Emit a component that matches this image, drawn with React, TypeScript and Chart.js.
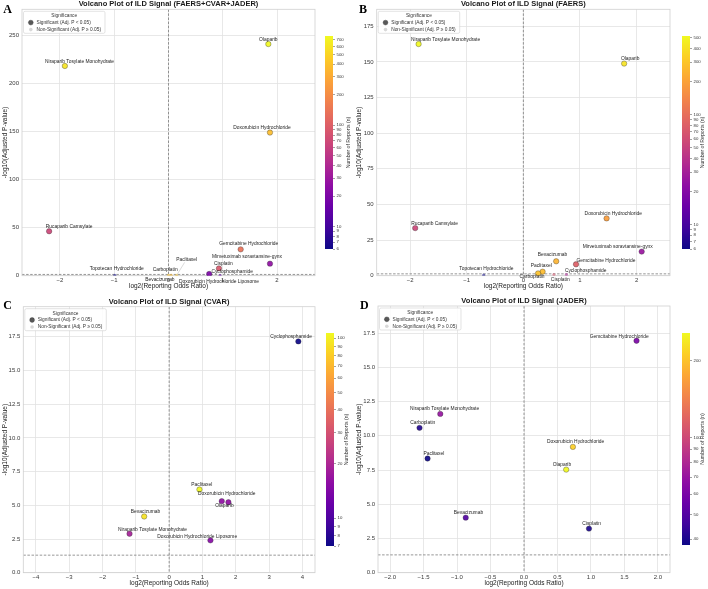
import React, { useEffect, useRef } from "react";
import { Chart, registerables } from "chart.js";
Chart.register(...registerables);

const FONT = "'Liberation Sans', Arial, Helvetica, sans-serif";
Chart.defaults.font.family = FONT;

// ---------------- DATA ----------------
// Panel A: FAERS+CVAR+JADER
const drugsA = ["Olaparib", "Niraparib Tosylate Monohydrate", "Doxorubicin Hydrochloride", "Rucaparib Camsylate", "Gemcitabine Hydrochloride", "Mirvetuximab soravtansine-gynx", "Cisplatin", "Cyclophosphamide", "Topotecan Hydrochloride", "Carboplatin", "Bevacizumab", "Paclitaxel", "Doxorubicin Hydrochloride Liposome"];
const log2RorA = [1.84, -1.91, 1.87, -2.2, 1.33, 1.87, 0.93, 0.75, -0.99, 0.05, 0.0, 0.15, 0.95];
const negLogPA = [240.8, 218.0, 148.8, 46.2, 27.4, 12.5, 7.6, 1.8, 0.3, 0.4, 0.3, 0.4, 0.2];
const reportsA = [760, 600, 380, 67, 134, 26, 90, 20, 6, 370, 400, 420, 15];

// Panel B: FAERS
const drugsB = ["Niraparib Tosylate Monohydrate", "Olaparib", "Doxorubicin Hydrochloride", "Rucaparib Camsylate", "Mirvetuximab soravtansine-gynx", "Bevacizumab", "Gemcitabine Hydrochloride", "Paclitaxel", "Carboplatin", "Cisplatin", "Cyclophosphamide", "Topotecan Hydrochloride"];
const log2RorB = [-1.85, 1.78, 1.47, -1.91, 2.09, 0.58, 0.93, 0.34, 0.26, 0.54, 0.76, -0.7];
const negLogPB = [162.5, 148.8, 40.2, 33.4, 16.9, 10.1, 8.0, 2.8, 1.6, 0.8, 0.8, 0.4];
const reportsB = [520, 415, 186, 56, 26, 245, 80, 270, 290, 69, 33, 6];

// Panel C: CVAR
const drugsC = ["Cyclophosphamide", "Paclitaxel", "Doxorubicin Hydrochloride", "Olaparib", "Bevacizumab", "Niraparib Tosylate Monohydrate", "Doxorubicin Hydrochloride Liposome"];
const log2RorC = [3.88, 0.91, 1.58, 1.78, -0.75, -1.19, 1.24];
const negLogPC = [17.16, 6.17, 5.31, 5.23, 4.17, 2.89, 2.4];
const reportsC = [7, 107, 16, 16, 93, 19, 15];

// Panel D: JADER
const drugsD = ["Gemcitabine Hydrochloride", "Niraparib Tosylate Monohydrate", "Carboplatin", "Doxorubicin Hydrochloride", "Paclitaxel", "Olaparib", "Bevacizumab", "Cisplatin"];
const log2RorD = [1.68, -1.25, -1.56, 0.73, -1.44, 0.63, -0.87, 0.97];
const negLogPD = [16.94, 11.6, 10.58, 9.19, 8.34, 7.53, 4.02, 3.22];
const reportsD = [61, 70, 41, 212, 38, 256, 50, 40];

// Tick values
const xTicksA = [-2, -1, 0, 1, 2];
const yTicksA = [0, 50, 100, 150, 200, 250];
const xTicksB = [-2, -1, 0, 1, 2];
const yTicksB = [0, 25, 50, 75, 100, 125, 150, 175];
const xTicksC = [-4, -3, -2, -1, 0, 1, 2, 3, 4];
const yTicksC = [0, 2.5, 5, 7.5, 10, 12.5, 15, 17.5];
const xTicksD = [-2, -1.5, -1, -0.5, 0, 0.5, 1, 1.5, 2];
const yTicksD = [0, 2.5, 5, 7.5, 10, 12.5, 15, 17.5];
const colorbarTicks = [6, 7, 8, 9, 10, 20, 30, 40, 50, 60, 70, 80, 90, 100, 200, 300, 400, 500, 600, 700, 800, 900];

// Label placement (pixel offsets of label centre from the point; third = leader line)
const labelOffsetsA = [[0, -4.8], [14.7, -4.6], [-8, -5], [20, -4.6], [8, -5.2], [-23, -6.9], [4.3, -4.9], [23, -2.5], [2, -6.7], [-6, -5.4], [-8.6, 4.6], [10, -15.4, 1], [-1, 6.3]];
const labelOffsetsB = [[27, -4.6], [6, -4.6], [6.7, -4.6], [19.3, -4.6], [-24, -4.9], [-3.7, -6.3], [30, -3.9], [-1.3, -6.3], [-6, 3.5], [6.3, 5], [19.3, -3.7], [2.7, -6.3]];
const labelOffsetsC = [[-7.3, -4.3], [2.3, -4.6], [5, -7.7], [-4, 3.6], [1.3, -5.3], [23, -4.3], [-13.3, -3.5]];
const labelOffsetsD = [[-17.3, -4.3], [4.3, -5], [3.3, -4.8], [2.7, -4.8], [6.3, -4.6], [-4.3, -4.6], [2.7, -4.6], [2.7, -4.6]];

const THRESH = -Math.log10(0.05);

const PLASMA = ["#0d0887", "#41049d", "#6a00a8", "#8f0da4", "#b12a90", "#cc4778", "#e16462", "#f2844b", "#fca636", "#fcce25", "#f0f921"];

function hexRgb(h: string) {
  return [parseInt(h.slice(1, 3), 16), parseInt(h.slice(3, 5), 16), parseInt(h.slice(5, 7), 16)];
}
function plasma(t: number) {
  t = Math.max(0, Math.min(1, t));
  const x = t * (PLASMA.length - 1);
  const i = Math.min(Math.floor(x), PLASMA.length - 2);
  const f = x - i;
  const a = hexRgb(PLASMA[i]);
  const b = hexRgb(PLASMA[i + 1]);
  return a.map((v, k) => Math.round(v + (b[k] - v) * f));
}

type Panel = {
  title: string; letter: string;
  drugs: string[]; ror: number[]; nlp: number[]; n: number[];
  offsets: number[][];
  xTicks: number[]; yTicks: number[]; xDec: number; yDec: number;
  canvas: { left: number; top: number; width: number; height: number };
  area: { L: number; T: number; R: number; B: number };
  letterPos: [number, number];
  cb: { left: number; top: number; width: number; height: number; labelGap: number };
};

const panels: Panel[] = [
  {
    title: "Volcano Plot of ILD Signal (FAERS+CVAR+JADER)", letter: "A",
    drugs: drugsA, ror: log2RorA, nlp: negLogPA, n: reportsA, offsets: labelOffsetsA,
    xTicks: xTicksA, yTicks: yTicksA, xDec: 0, yDec: 0,
    canvas: { left: 0, top: 0, width: 354, height: 292 },
    area: { L: 22, T: 9.3, R: 315, B: 275.7 },
    letterPos: [3.3, 13.3],
    cb: { left: 323, top: 31, width: 32, height: 223, labelGap: 16 },
  },
  {
    title: "Volcano Plot of ILD Signal (FAERS)", letter: "B",
    drugs: drugsB, ror: log2RorB, nlp: negLogPB, n: reportsB, offsets: labelOffsetsB,
    xTicks: xTicksB, yTicks: yTicksB, xDec: 0, yDec: 0,
    canvas: { left: 354, top: 0, width: 354, height: 292 },
    area: { L: 22.7, T: 9.3, R: 316, B: 275.7 },
    letterPos: [5, 12.7],
    cb: { left: 680, top: 31, width: 28, height: 223, labelGap: 13 },
  },
  {
    title: "Volcano Plot of ILD Signal (CVAR)", letter: "C",
    drugs: drugsC, ror: log2RorC, nlp: negLogPC, n: reportsC, offsets: labelOffsetsC,
    xTicks: xTicksC, yTicks: yTicksC, xDec: 0, yDec: 1,
    canvas: { left: 0, top: 290, width: 354, height: 299 },
    area: { L: 23.3, T: 16.7, R: 315, B: 282.7 },
    letterPos: [3.3, 19.3],
    cb: { left: 324, top: 327.7, width: 30, height: 222.6, labelGap: 13 },
  },
  {
    title: "Volcano Plot of ILD Signal (JADER)", letter: "D",
    drugs: drugsD, ror: log2RorD, nlp: negLogPD, n: reportsD, offsets: labelOffsetsD,
    xTicks: xTicksD, yTicks: yTicksD, xDec: 1, yDec: 1,
    canvas: { left: 354, top: 290, width: 354, height: 299 },
    area: { L: 24, T: 16, R: 316, B: 282.7 },
    letterPos: [6, 19.3],
    cb: { left: 680, top: 328.3, width: 28, height: 222, labelGap: 13 },
  },
];

function fmt(v: number, dec: number) {
  const s = Math.abs(v).toFixed(dec);
  return (v < 0 ? "\u2212" : "") + s;
}

const GRID = "#e2e2e2";
const SPINE = "#d0d0d0";
const TICKC = "#3a3a3a";

function MainChart({ p }: { p: Panel }) {
  const ref = useRef<HTMLCanvasElement | null>(null);
  useEffect(() => {
    const { drugs, ror, nlp, n, area, canvas } = p;
    const lmin = Math.log10(Math.min(...n));
    const lmax = Math.log10(Math.max(...n));
    const sig = nlp.map((v) => v > THRESH);
    const colors = n.map((v, i) => {
      const [r, g, b] = plasma((Math.log10(v) - lmin) / (lmax - lmin));
      return `rgba(${r},${g},${b},${sig[i] ? 0.92 : 0.55})`;
    });
    const xl = Math.max(...ror.map((v) => Math.abs(v))) + 0.5;
    const ymax = Math.max(...nlp) * 1.15;
    const order = drugs.map((_, i) => i).sort((a, b) => Number(sig[a]) - Number(sig[b]));

    const deco = {
      id: "deco",
      beforeDatasetsDraw(chart: any) {
        const { ctx, chartArea: a, scales } = chart;
        ctx.save();
        ctx.beginPath();
        ctx.rect(a.left, a.top, a.right - a.left, a.bottom - a.top);
        ctx.clip();
        ctx.strokeStyle = "rgba(110,110,110,0.9)";
        ctx.lineWidth = 0.8;
        ctx.setLineDash([2.5, 1.6]);
        const y0 = scales.y.getPixelForValue(THRESH);
        ctx.beginPath(); ctx.moveTo(a.left, y0); ctx.lineTo(a.right, y0); ctx.stroke();
        const x0 = scales.x.getPixelForValue(0);
        ctx.beginPath(); ctx.moveTo(x0, a.top); ctx.lineTo(x0, a.bottom); ctx.stroke();
        ctx.restore();
        ctx.save();
        ctx.strokeStyle = SPINE;
        ctx.lineWidth = 0.8;
        ctx.strokeRect(a.left, a.top, a.right - a.left, a.bottom - a.top);
        ctx.restore();
      },
      afterDatasetsDraw(chart: any) {
        const { ctx, chartArea: a, scales } = chart;
        ctx.save();
        // annotations
        ctx.font = `4.9px ${FONT}`;
        ctx.fillStyle = "#222";
        ctx.textAlign = "center";
        ctx.textBaseline = "middle";
        drugs.forEach((d, i) => {
          const px = scales.x.getPixelForValue(ror[i]);
          const py = scales.y.getPixelForValue(nlp[i]);
          const o = p.offsets[i] || [0, -4.5];
          const tx = px + o[0];
          const ty = py + o[1];
          if (o[2]) {
            ctx.save();
            ctx.strokeStyle = "rgba(150,150,150,0.7)";
            ctx.lineWidth = 0.5;
            ctx.beginPath(); ctx.moveTo(tx - 2, ty + 2.5); ctx.lineTo(px, py); ctx.stroke();
            ctx.restore();
          }
          ctx.fillText(d, tx, ty);
        });
        // legend
        const lx = a.left + 1.5, ly = a.top + 2;
        ctx.font = `4.8px ${FONT}`;
        const t1 = "Significant (Adj. P < 0.05)";
        const t2 = "Non-Significant (Adj. P \u2265 0.05)";
        const w = Math.max(ctx.measureText(t1).width, ctx.measureText(t2).width) + 17;
        const h = 22;
        ctx.fillStyle = "rgba(255,255,255,0.85)";
        ctx.strokeStyle = "#d0d0d0";
        ctx.lineWidth = 0.6;
        ctx.beginPath();
        (ctx as any).roundRect(lx, ly, w, h, 1.5);
        ctx.fill(); ctx.stroke();
        ctx.fillStyle = "#333";
        ctx.textAlign = "center";
        ctx.fillText("Significance", lx + w / 2, ly + 4.8);
        ctx.textAlign = "left";
        ctx.fillText(t1, lx + 13, ly + 11.4);
        ctx.fillText(t2, lx + 13, ly + 18.3);
        ctx.beginPath(); ctx.arc(lx + 7.3, ly + 11.3, 2.4, 0, Math.PI * 2);
        ctx.fillStyle = "rgba(70,70,70,0.9)"; ctx.fill();
        ctx.strokeStyle = "#333"; ctx.lineWidth = 0.4; ctx.stroke();
        ctx.beginPath(); ctx.arc(lx + 7.3, ly + 18.3, 1.8, 0, Math.PI * 2);
        ctx.fillStyle = "rgba(200,200,200,0.7)"; ctx.fill();
        // title
        ctx.font = `bold 7.5px ${FONT}`;
        ctx.fillStyle = "#1a1a1a";
        ctx.textAlign = "center";
        ctx.textBaseline = "middle";
        ctx.fillText(p.title, (a.left + a.right) / 2, a.top - 5);
        // panel letter
        ctx.font = `bold 12px 'Liberation Serif', 'Times New Roman', serif`;
        ctx.fillStyle = "#000";
        ctx.textAlign = "left";
        ctx.textBaseline = "alphabetic";
        ctx.fillText(p.letter, p.letterPos[0], p.letterPos[1]);
        ctx.restore();
      },
    };

    const tickFont = { size: 6, family: FONT };
    const titleFont = { size: 6.5, family: FONT };
    const chart = new Chart(ref.current as HTMLCanvasElement, {
      type: "scatter",
      data: {
        datasets: [
          {
            data: order.map((i) => ({ x: ror[i], y: nlp[i] })),
            backgroundColor: order.map((i) => colors[i]),
            borderColor: order.map((i) => (sig[i] ? "rgba(40,40,40,0.75)" : "rgba(0,0,0,0)")),
            borderWidth: order.map((i) => (sig[i] ? 0.45 : 0)),
            pointRadius: order.map((i) => (sig[i] ? 2.7 : 1.6)),
          },
        ],
      },
      options: {
        responsive: false,
        animation: false,
        events: [],
        layout: { padding: { left: 0, top: area.T, right: canvas.width - area.R, bottom: 0 } },
        plugins: { legend: { display: false }, tooltip: { enabled: false }, title: { display: false } },
        scales: {
          x: {
            type: "linear",
            min: -xl,
            max: xl,
            afterBuildTicks: (s: any) => { s.ticks = p.xTicks.map((v) => ({ value: v })); },
            afterFit: (s: any) => { s.height = canvas.height - area.B; },
            ticks: { callback: (v: any) => fmt(Number(v), p.xDec), font: tickFont, color: TICKC, padding: 1.3, maxRotation: 0, autoSkip: false },
            grid: { color: GRID, lineWidth: 0.8, drawTicks: false },
            border: { display: false },
            title: { display: true, text: "log2(Reporting Odds Ratio)", font: titleFont, color: "#222", padding: { top: 0, bottom: canvas.height === 292 ? 2 : 1.4 } },
          },
          y: {
            type: "linear",
            min: 0,
            max: ymax,
            afterBuildTicks: (s: any) => { s.ticks = p.yTicks.map((v) => ({ value: v })); },
            afterFit: (s: any) => { s.width = area.L; },
            ticks: { callback: (v: any) => fmt(Number(v), p.yDec), font: tickFont, color: TICKC, padding: 3, autoSkip: false },
            grid: { color: GRID, lineWidth: 0.8, drawTicks: false },
            border: { display: false },
            title: { display: true, text: "-log10(Adjusted P-value)", font: titleFont, color: "#222", padding: { top: 1.4, bottom: 0 } },
          },
        },
      },
      plugins: [deco],
    } as any);
    return () => chart.destroy();
  }, []);
  const c = p.canvas;
  return (
    <canvas
      ref={ref}
      width={c.width}
      height={c.height}
      style={{ position: "absolute", left: c.left, top: c.top, width: c.width, height: c.height }}
    />
  );
}

function ColorBar({ p }: { p: Panel }) {
  const ref = useRef<HTMLCanvasElement | null>(null);
  useEffect(() => {
    const vmin = Math.min(...p.n);
    const vmax = Math.max(...p.n);
    const cb = p.cb;
    const barW = 8;
    const fill = {
      id: "cbfill",
      beforeDatasetsDraw(chart: any) {
        const { ctx, chartArea: a } = chart;
        const g = ctx.createLinearGradient(0, a.bottom, 0, a.top);
        PLASMA.forEach((c, i) => g.addColorStop(i / (PLASMA.length - 1), c));
        ctx.save();
        ctx.fillStyle = g;
        ctx.fillRect(a.left, a.top, a.right - a.left, a.bottom - a.top);
        ctx.restore();
      },
      afterDraw(chart: any) {
        const { ctx, chartArea: a } = chart;
        ctx.save();
        ctx.translate(a.right + cb.labelGap, (a.top + a.bottom) / 2);
        ctx.rotate(-Math.PI / 2);
        ctx.font = `5.2px ${FONT}`;
        ctx.fillStyle = "#333";
        ctx.textAlign = "center";
        ctx.textBaseline = "middle";
        ctx.fillText("Number of Reports (n)", 0, 0);
        ctx.restore();
      },
    };
    const chart = new Chart(ref.current as HTMLCanvasElement, {
      type: "scatter",
      data: { datasets: [] },
      options: {
        responsive: false,
        animation: false,
        events: [],
        layout: { padding: { left: 2, top: 5, bottom: 5, right: 0 } },
        plugins: { legend: { display: false }, tooltip: { enabled: false } },
        scales: {
          x: { display: false, type: "linear", min: 0, max: 1 },
          y: {
            type: "logarithmic",
            position: "right",
            min: vmin,
            max: vmax,
            afterBuildTicks: (s: any) => {
              s.ticks = colorbarTicks.filter((v) => v >= vmin && v <= vmax).map((v) => ({ value: v }));
            },
            afterFit: (s: any) => { s.width = cb.width - 2 - barW; },
            ticks: { callback: (v: any) => String(v), font: { size: 4.3, family: FONT }, color: "#333", padding: 1.5, autoSkip: false },
            grid: { drawOnChartArea: false, drawTicks: true, tickLength: 2, color: "#444", lineWidth: 0.5 },
            border: { display: false },
          },
        },
      },
      plugins: [fill],
    } as any);
    return () => chart.destroy();
  }, []);
  const c = p.cb;
  return (
    <canvas
      ref={ref}
      width={c.width}
      height={Math.round(c.height)}
      style={{ position: "absolute", left: c.left, top: c.top, width: c.width, height: Math.round(c.height) }}
    />
  );
}

export default function App() {
  return (
    <div style={{ position: "fixed", left: 0, top: 0, width: 708, height: 589, background: "#fff", overflow: "hidden" }}>
      {panels.map((p, i) => (
        <MainChart key={"m" + i} p={p} />
      ))}
      {panels.map((p, i) => (
        <ColorBar key={"c" + i} p={p} />
      ))}
    </div>
  );
}
